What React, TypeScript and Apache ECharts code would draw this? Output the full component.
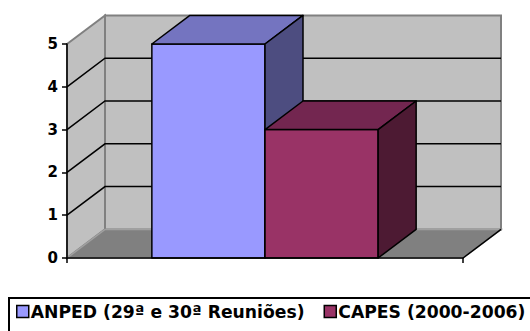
import React, { useEffect, useRef } from "react";
import * as echarts from "echarts";

const categories = [""];
const seriesNames = ["ANPED (29ª e 30ª Reuniões)", "CAPES (2000-2006)"];
const anpedValues = [5];
const capesValues = [3];
const yTicks = [0, 1, 2, 3, 4, 5];

const DX = 38;
const DY = 28.6;
const GAP_WIDTH = 1.5;
const FONT = "DejaVu Sans";

const anpedColors = ["#9999ff", "#7474c0", "#4d4d80"];
const capesColors = ["#993366", "#732650", "#4d1a33"];

export default function App() {
  const ref = useRef<HTMLDivElement>(null);
  useEffect(() => {
    const chart = echarts.init(ref.current!, null, { renderer: "svg" });
    const yMin = yTicks[0];
    const yMax = yTicks[yTicks.length - 1];
    const nSeries = 2;

    const makeBar = (seriesIdx: number, colors: string[]) => (params: any, api: any) => {
      const ci = api.value(0);
      const v = api.value(1);
      const bw = api.size([1, 0])[0];
      const base = api.coord([ci, yMin]);
      const top = api.coord([ci, v]);
      const barW = bw / (nSeries + GAP_WIDTH);
      const xl = base[0] - (nSeries * barW) / 2 + seriesIdx * barW;
      const xr = xl + barW;
      const yb = base[1];
      const yt = top[1];
      const st = { stroke: "#000", lineWidth: 1.5, lineJoin: "round" };
      return {
        type: "group",
        children: [
          { type: "rect", shape: { x: xl, y: yt, width: barW, height: yb - yt }, style: { fill: colors[0], ...st } },
          {
            type: "polygon",
            shape: { points: [[xl, yt], [xl + DX, yt - DY], [xr + DX, yt - DY], [xr, yt]] },
            style: { fill: colors[1], ...st },
          },
          {
            type: "polygon",
            shape: { points: [[xr, yt], [xr + DX, yt - DY], [xr + DX, yb - DY], [xr, yb]] },
            style: { fill: colors[2], ...st },
          },
        ],
      };
    };

    const wallsRender = (params: any, api: any) => {
      const bw = api.size([1, 0])[0];
      const c0 = api.coord([0, yMin]);
      const x0 = c0[0] - bw / 2;
      const x1 = c0[0] + bw / 2;
      const yb = c0[1];
      const yt = api.coord([0, yMax])[1];
      const gray = { stroke: "#808080", lineWidth: 2 };
      const children: any[] = [
        { type: "rect", shape: { x: x0 + DX, y: yt - DY, width: bw, height: yb - yt }, style: { fill: "#c0c0c0", ...gray } },
        {
          type: "polygon",
          shape: { points: [[x0, yt], [x0 + DX, yt - DY], [x0 + DX, yb - DY], [x0, yb]] },
          style: { fill: "#c0c0c0", ...gray },
        },
        {
          type: "polygon",
          shape: { points: [[x0, yb], [x0 + DX, yb - DY], [x1 + DX, yb - DY], [x1, yb]] },
          style: { fill: "#808080", stroke: "#a0a0a0", lineWidth: 1.5 },
        },
        {
          type: "line",
          shape: { x1: x1, y1: yb, x2: x1 + DX, y2: yb - DY },
          style: { stroke: "#000", lineWidth: 1.5 },
        },
      ];
      yTicks.slice(1, -1).forEach((t) => {
        const y = api.coord([0, t])[1];
        children.push({
          type: "polyline",
          shape: { points: [[x0, y], [x0 + DX, y - DY], [x1 + DX, y - DY]] },
          style: { stroke: "#000", lineWidth: 1.5, fill: null },
        });
      });
      return { type: "group", children };
    };

    chart.setOption({
      animation: false,
      grid: { left: 67, top: 44, width: 396, height: 214 },
      xAxis: {
        type: "category",
        data: categories,
        boundaryGap: true,
        axisLine: { lineStyle: { color: "#000", width: 1.5 } },
        axisTick: { show: true, length: 5, lineStyle: { color: "#000", width: 1.5 } },
        axisLabel: { show: false },
        z: 10,
      },
      yAxis: {
        type: "value",
        min: yMin,
        max: yMax,
        interval: 1,
        axisLine: { show: true, lineStyle: { color: "#000", width: 1.5 } },
        axisTick: { show: true, length: 5, lineStyle: { color: "#000", width: 1.5 } },
        axisLabel: { fontFamily: FONT, fontWeight: "bold", fontSize: 15, color: "#000", margin: 9 },
        splitLine: { show: false },
        z: 10,
      },
      legend: {
        left: 16,
        top: 303,
        icon: "rect",
        itemWidth: 12,
        itemHeight: 12,
        itemGap: 19,
        padding: 0,
        textStyle: { fontFamily: FONT, fontWeight: "bold", fontSize: 17.2, color: "#000", padding: [0, 0, 0, -3] },
        data: [
          { name: seriesNames[0], itemStyle: { color: anpedColors[0], borderColor: "#000", borderWidth: 1.5 } },
          { name: seriesNames[1], itemStyle: { color: capesColors[0], borderColor: "#000", borderWidth: 1.5 } },
        ],
      },
      graphic: [
        {
          type: "rect",
          shape: { x: 9, y: 298, width: 600, height: 100 },
          style: { fill: "none", stroke: "#000", lineWidth: 2 },
        },
      ],
      series: [
        {
          name: "walls",
          type: "custom",
          silent: true,
          renderItem: wallsRender,
          data: [[0, yMax]],
          z: 1,
        },
        {
          name: seriesNames[0],
          type: "custom",
          renderItem: makeBar(0, anpedColors),
          itemStyle: { color: anpedColors[0] },
          data: anpedValues.map((v, i) => [i, v]),
          z: 2,
        },
        {
          name: seriesNames[1],
          type: "custom",
          renderItem: makeBar(1, capesColors),
          itemStyle: { color: capesColors[0] },
          data: capesValues.map((v, i) => [i, v]),
          z: 3,
        },
      ],
    });
    return () => chart.dispose();
  }, []);
  return <div ref={ref} style={{ position: "absolute", left: 0, top: 0, width: 530, height: 331 }} />;
}
